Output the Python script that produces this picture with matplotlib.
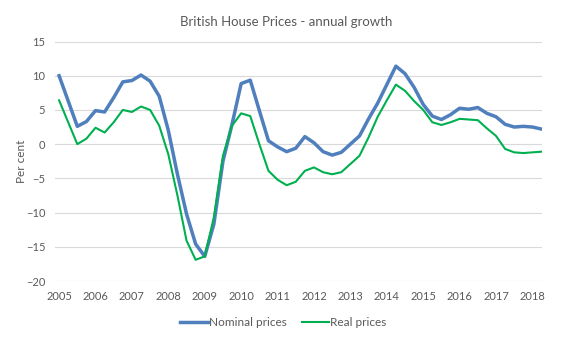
import matplotlib.pyplot as plt

# quarterly annual growth, 2005 Q1 .. 2018 Q2
nominal = [10.0, 6.3, 2.6, 3.3, 4.9, 4.7, 6.8, 9.1, 9.3, 10.1, 9.2, 7.0,
           2.0, -4.4, -10.2, -14.6, -16.4, -11.7, -2.5, 2.9, 8.85, 9.35, 4.9, 0.5,
           -0.4, -1.1, -0.6, 1.1, 0.2, -1.1, -1.6, -1.2, 0.0, 1.2, 3.7, 6.0,
           8.7, 11.4, 10.3, 8.3, 5.8, 4.1, 3.6, 4.3, 5.25, 5.1, 5.35, 4.5,
           4.0, 2.9, 2.5, 2.6, 2.5, 2.2]
real = [6.4, 3.2, 0.0, 0.8, 2.4, 1.7, 3.2, 5.0, 4.7, 5.5, 5.0, 2.7,
        -1.5, -7.5, -14.1, -16.9, -16.4, -10.7, -1.7, 2.7, 4.5, 4.1, 0.0, -3.9,
        -5.2, -6.0, -5.5, -3.9, -3.4, -4.1, -4.4, -4.1, -2.9, -1.7, 1.0, 4.0,
        6.4, 8.7, 7.8, 6.3, 5.0, 3.2, 2.8, 3.2, 3.7, 3.6, 3.5, 2.3,
        1.2, -0.7, -1.2, -1.3, -1.2, -1.1]
years = [str(y) for y in range(2005, 2019)]

grey = '#595959'
plt.rcParams['font.family'] = ['Lato', 'DejaVu Sans']

fig = plt.figure(figsize=(5.67, 3.4), dpi=100)
ax = fig.add_axes([55 / 567, 59 / 340, 487 / 567, 239.5 / 340])

x = list(range(len(nominal)))
ax.plot(x, nominal, color='#4F7FBD', lw=2.5, label='Nominal prices', solid_joinstyle='round')
ax.plot(x, real, color='#00B050', lw=1.5, label='Real prices', solid_joinstyle='round')

ax.set_xlim(-0.45, 53.05)
ax.set_ylim(-20, 15)
ax.set_yticks(range(-20, 16, 5))
ax.set_xticks(range(0, len(nominal), 4))
ax.set_xticklabels(years)
ax.grid(axis='y', color='#D9D9D9', lw=0.8)
ax.set_axisbelow(True)
for s in ax.spines.values():
    s.set_visible(False)
ax.tick_params(length=0, colors=grey, labelsize=8)
ax.tick_params(axis='x', pad=7)
ax.tick_params(axis='y', pad=7)

ax.set_ylabel('Per cent', color=grey, fontsize=8.5)
ax.yaxis.set_label_coords(-28 / 487, 0.5)
fig.text(0.505, 0.935, 'British House Prices - annual growth', ha='center', va='center',
         color=grey, fontsize=9.5)
fig.legend(loc='center', bbox_to_anchor=(0.5, 0.05), ncol=2, frameon=False,
           fontsize=8.5, labelcolor=grey, handlelength=2.3, handletextpad=0.1,
           columnspacing=1.3)

fig.savefig('out.png', dpi=100)
